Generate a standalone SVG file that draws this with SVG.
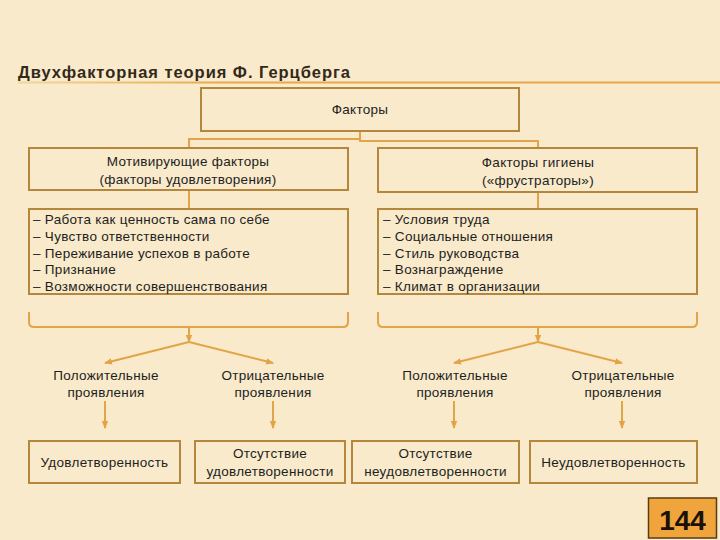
<svg xmlns="http://www.w3.org/2000/svg" width="720" height="540" viewBox="0 0 720 540">
<defs>
<linearGradient id="ul" x1="0" y1="0" x2="1" y2="0">
<stop offset="0" stop-color="#F2D79E"/>
<stop offset="0.3" stop-color="#E6A84C"/>
<stop offset="1" stop-color="#E6A84C"/>
</linearGradient>
<marker id="ah" markerWidth="8" markerHeight="8" refX="7" refY="4" orient="auto" markerUnits="userSpaceOnUse">
<path d="M0,0.8 L8,4 L0,7.2 Z" fill="#E3A448"/>
</marker>
<style>
.box{fill:none;stroke:#B5873C;stroke-width:2}
.con{fill:none;stroke:#E3A448;stroke-width:2}
.t{font-family:"Liberation Sans",Arial,sans-serif;font-size:13.5px;letter-spacing:0.3px;fill:#1e1e1e}
.c{text-anchor:middle}
</style>
</defs>
<rect width="720" height="540" fill="#F8EACA"/>
<g id="title">
<text x="18" y="78" font-family="'Liberation Sans',Arial,sans-serif" font-size="16.5" font-weight="bold" fill="#33281A" textLength="332" lengthAdjust="spacing">Двухфакторная теория Ф. Герцберга</text>
<rect x="18" y="81.5" width="702" height="2" fill="url(#ul)"/>
</g>
<g id="connectors">
<path class="con" d="M360,131 V139 H189 V148"/>
<path class="con" d="M360,139 V141 H538 V148"/>
<path class="con" d="M189,190 V209"/>
<path class="con" d="M538,192 V209"/>
<path class="con" d="M29,312 V322 Q29,327 34,327 H343 Q348,327 348,322 V312"/>
<path class="con" d="M378,312 V322 Q378,327 383,327 H692 Q697,327 697,322 V312"/>
<path class="con" d="M189,327 V342" marker-end="url(#ah)"/>
<path class="con" d="M538,327 V342" marker-end="url(#ah)"/>
<path class="con" d="M189,342 L105,363" marker-end="url(#ah)"/>
<path class="con" d="M189,342 L273,363" marker-end="url(#ah)"/>
<path class="con" d="M538,342 L454,363" marker-end="url(#ah)"/>
<path class="con" d="M538,342 L622,363" marker-end="url(#ah)"/>
<path class="con" d="M105,401 V428" marker-end="url(#ah)"/>
<path class="con" d="M273,401 V428" marker-end="url(#ah)"/>
<path class="con" d="M454,401 V428" marker-end="url(#ah)"/>
<path class="con" d="M622,401 V428" marker-end="url(#ah)"/>
</g>
<g id="factors">
<rect class="box" x="201" y="88" width="318" height="43"/>
<text class="t c" x="360" y="114">Факторы</text>
</g>
<g id="motivators">
<rect class="box" x="29" y="148" width="319" height="42"/>
<text class="t c" x="188" y="166">Мотивирующие факторы</text>
<text class="t c" x="188" y="184">(факторы удовлетворения)</text>
</g>
<g id="hygiene">
<rect class="box" x="378" y="148" width="319" height="44"/>
<text class="t c" x="538" y="167">Факторы гигиены</text>
<text class="t c" x="538" y="185">(«фрустраторы»)</text>
</g>
<g id="motivators-list">
<rect class="box" x="29" y="209" width="319" height="85"/>
<text class="t" x="33" y="224">– Работа как ценность сама по себе</text>
<text class="t" x="33" y="240.8">– Чувство ответственности</text>
<text class="t" x="33" y="257.6">– Переживание успехов в работе</text>
<text class="t" x="33" y="274.4">– Признание</text>
<text class="t" x="33" y="291.2">– Возможности совершенствования</text>
</g>
<g id="hygiene-list">
<rect class="box" x="378" y="209" width="319" height="85"/>
<text class="t" x="383" y="224">– Условия труда</text>
<text class="t" x="383" y="240.8">– Социальные отношения</text>
<text class="t" x="383" y="257.6">– Стиль руководства</text>
<text class="t" x="383" y="274.4">– Вознаграждение</text>
<text class="t" x="383" y="291.2">– Климат в организации</text>
</g>
<g id="pos1">
<text class="t c" x="106" y="380">Положительные</text>
<text class="t c" x="106" y="397">проявления</text>
</g>
<g id="neg1">
<text class="t c" x="273" y="380">Отрицательные</text>
<text class="t c" x="273" y="397">проявления</text>
</g>
<g id="pos2">
<text class="t c" x="455" y="380">Положительные</text>
<text class="t c" x="455" y="397">проявления</text>
</g>
<g id="neg2">
<text class="t c" x="623" y="380">Отрицательные</text>
<text class="t c" x="623" y="397">проявления</text>
</g>
<g id="satisfaction">
<rect class="box" x="29" y="441" width="151" height="42"/>
<text class="t c" x="104.5" y="466.5">Удовлетворенность</text>
</g>
<g id="no-satisfaction">
<rect class="box" x="195" y="441" width="150" height="42"/>
<text class="t c" x="270" y="458">Отсутствие</text>
<text class="t c" x="270" y="476">удовлетворенности</text>
</g>
<g id="no-dissatisfaction">
<rect class="box" x="352" y="441" width="167" height="42"/>
<text class="t c" x="435.5" y="458">Отсутствие</text>
<text class="t c" x="435.5" y="476">неудовлетворенности</text>
</g>
<g id="dissatisfaction">
<rect class="box" x="530" y="441" width="167" height="42"/>
<text class="t c" x="613.5" y="466.5">Неудовлетворенность</text>
</g>
<g id="page-number">
<rect x="648.5" y="498" width="68" height="40" fill="#F0A43C" stroke="#5A3C14" stroke-width="1.5"/>
<text x="682.5" y="529.5" text-anchor="middle" font-family="'Liberation Sans',Arial,sans-serif" font-size="28" font-weight="bold" fill="#1a1208">144</text>
</g>
</svg>
